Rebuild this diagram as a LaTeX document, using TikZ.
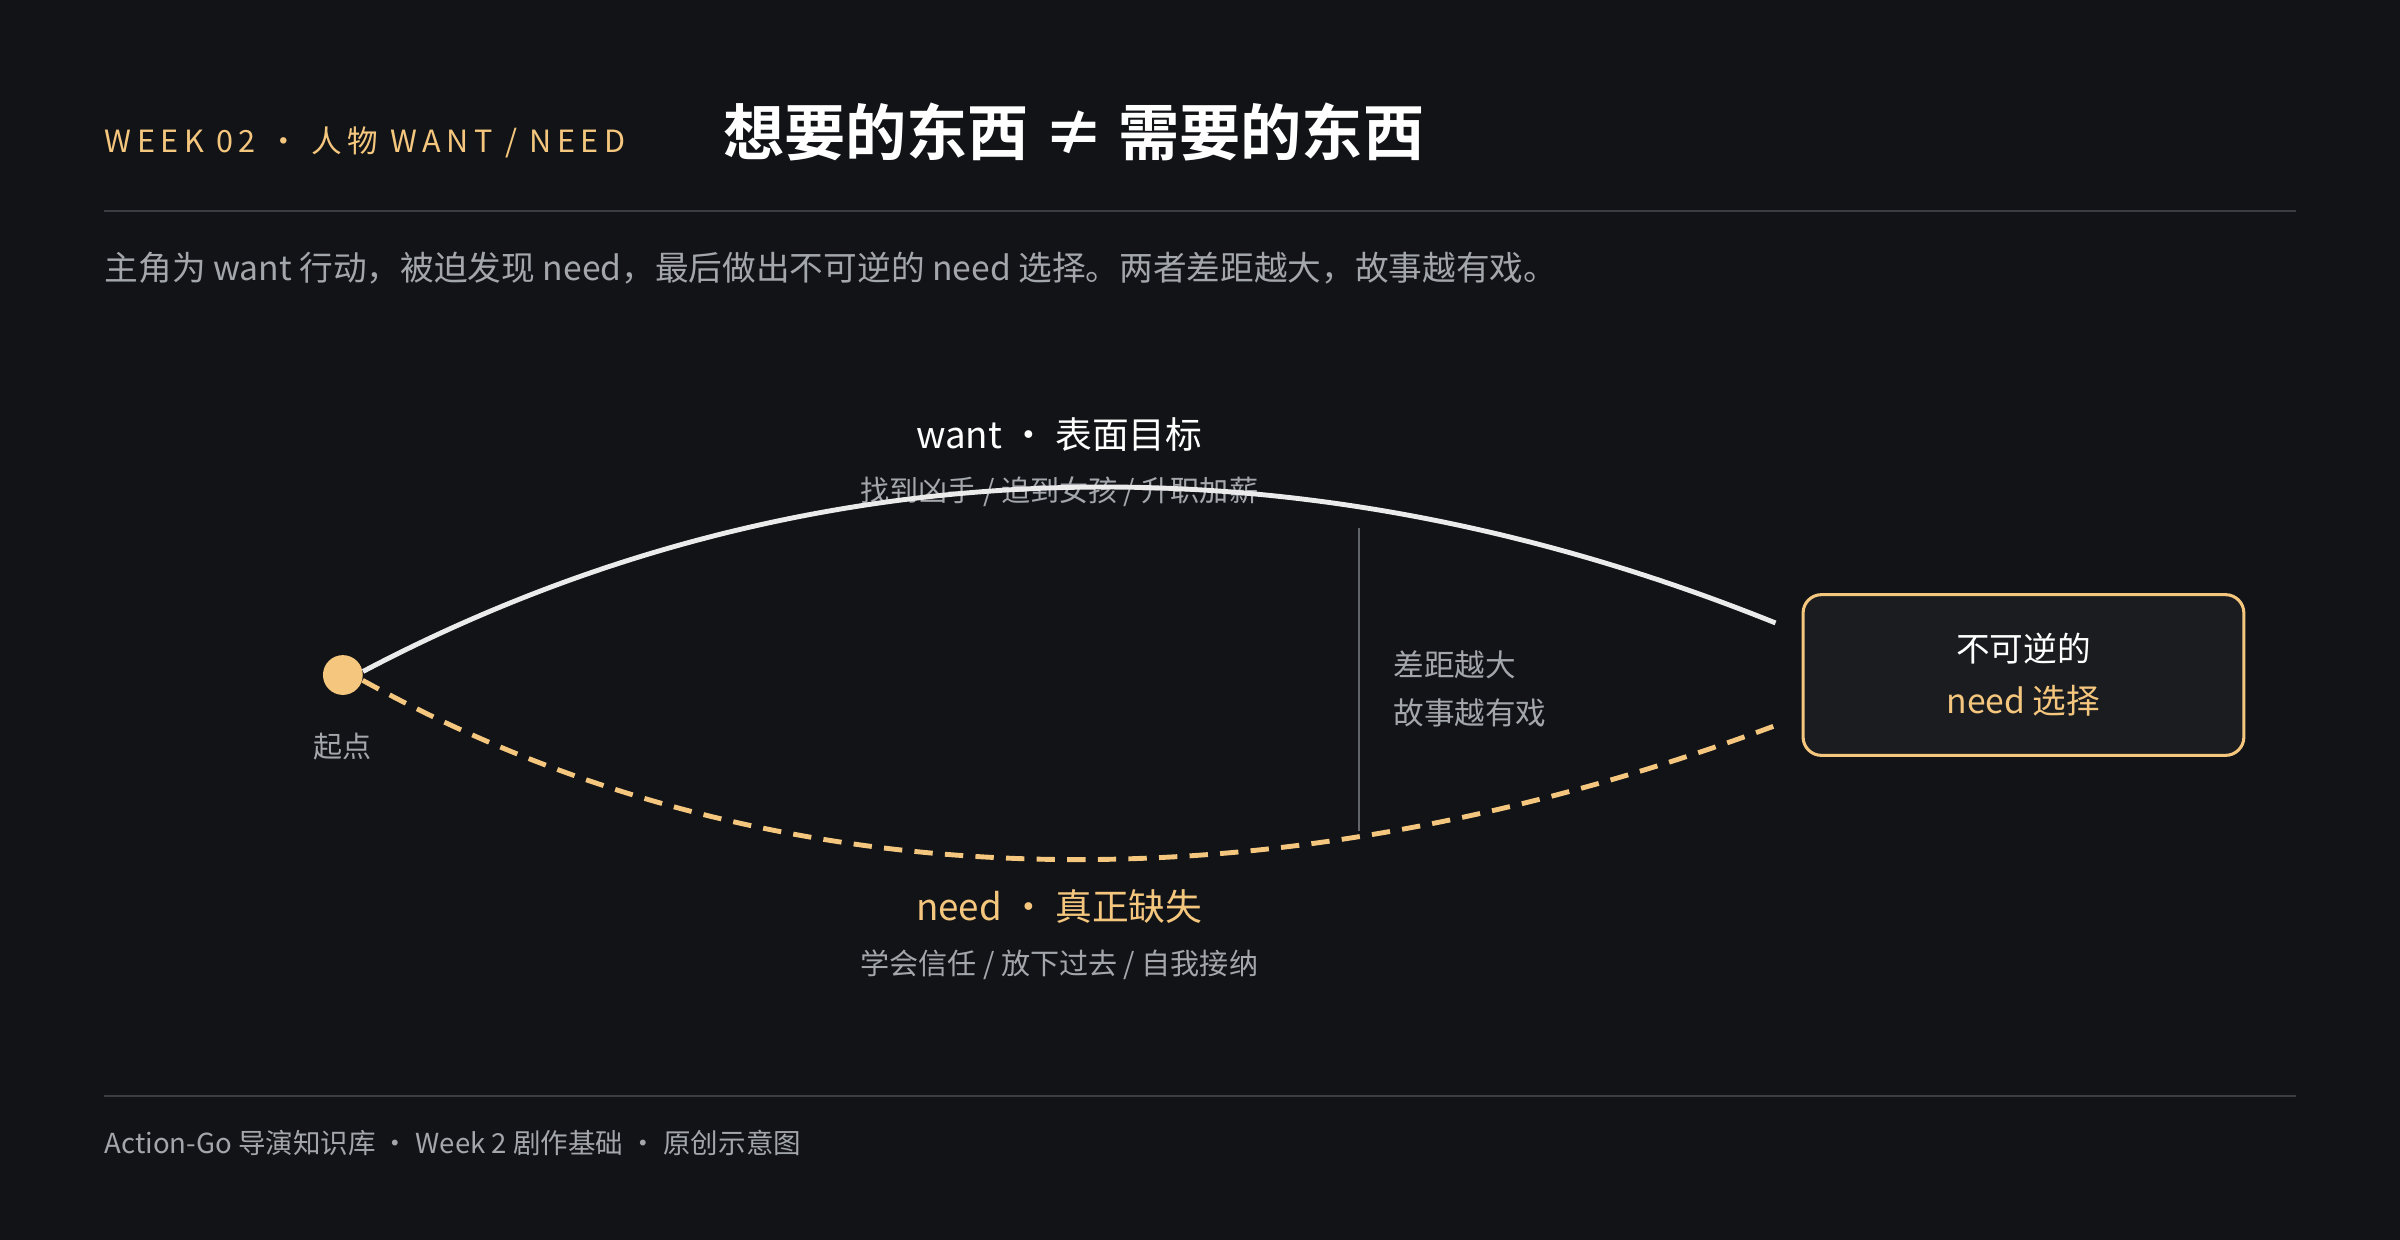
\documentclass[tikz,border=0pt]{standalone}
\usepackage{fontspec}
\setmainfont{Noto Sans CJK SC}[BoldFont={Noto Sans CJK SC Bold}]
\newfontfamily\spacedfont{Noto Sans CJK SC}[LetterSpace=18]
\usetikzlibrary{positioning}
\definecolor{bgdark}{HTML}{111317}
\definecolor{gold}{HTML}{F5C77E}
\definecolor{softgrey}{HTML}{A3A6AB}
\definecolor{rulegrey}{HTML}{3A3D42}
\definecolor{boxfill}{HTML}{1A1C20}

\begin{document}
\begin{tikzpicture}[x=0.5pt, y=-0.5pt,
  lbl/.style={inner sep=0pt, font=\fontsize{12}{14}\selectfont},
  note/.style={inner sep=0pt, text=softgrey, font=\fontsize{9.5}{12}\selectfont},
  rule/.style={draw=rulegrey, line width=0.6pt},
  choice/.style={draw=gold, fill=boxfill, rounded corners=6pt, line width=1pt,
    minimum width=144pt, minimum height=52.5pt, align=center,
    font=\fontsize{11}{17}\selectfont}
]
\fill[bgdark] (0,0) rectangle (1568,810);
\useasboundingbox (0,0) rectangle (1568,810);

% header
\node[anchor=west, inner sep=0pt, text=gold, font=\spacedfont\fontsize{10}{12}\selectfont] (week) at (68,93) {WEEK 02 · 人物 WANT / NEED};
\node[anchor=west, inner sep=0pt, text=white, font=\bfseries\fontsize{20}{24}\selectfont] (title) at (472,86) {想要的东西 ≠ 需要的东西};
\draw[rule] (68,138) -- (1500,138);
\node[anchor=west, inner sep=0pt, text=softgrey, font=\fontsize{11}{13}\selectfont] (lead) at (68,175) {主角为 want 行动，被迫发现 need，最后做出不可逆的 need 选择。两者差距越大，故事越有戏。};

% labels
\node[lbl, text=white] (wantlbl) at (692,284) {want · 表面目标};
\node[note] (wantnote) at (692,321) {找到凶手 / 追到女孩 / 升职加薪};
\node[lbl, text=gold] (needlbl) at (692,592) {need · 真正缺失};
\node[note] (neednote) at (692,630) {学会信任 / 放下过去 / 自我接纳};

% start point and choice
\node[circle, fill=gold, minimum size=13pt, inner sep=0pt] (start) at (224,441) {};
\node[note, below=12pt of start] (startlbl) {起点};
\node[choice] (choice) at (1322,441) {\textcolor{white}{不可逆的}\\\textcolor{gold}{need 选择}};
\coordinate (wantend) at (1160,407);
\coordinate (needend) at (1160,474);
\coordinate (gaptop) at (888,345);
\coordinate (gapbot) at (888,543);

% gap
\draw[draw=rulegrey!80!white, line width=0.8pt] (gaptop) -- (gapbot);
\node[note, anchor=west, align=left, font=\fontsize{10}{15.5}\selectfont] (gaplbl) at (910,450) {差距越大\\故事越有戏};

% curves
\draw[white!92!black, line width=1.6pt] (start.10) .. controls (500,300) and (820,270) .. (wantend);
\draw[gold, line width=1.6pt, dash pattern=on 6pt off 4pt] (start.-15) .. controls (500,590) and (820,600) .. (needend);

% footer
\draw[rule] (68,716) -- (1500,716);
\node[anchor=west, inner sep=0pt, text=softgrey, font=\fontsize{9}{11}\selectfont] (footer) at (68,747) {Action-Go 导演知识库 · Week 2 剧作基础 · 原创示意图};
\end{tikzpicture}
\end{document}
